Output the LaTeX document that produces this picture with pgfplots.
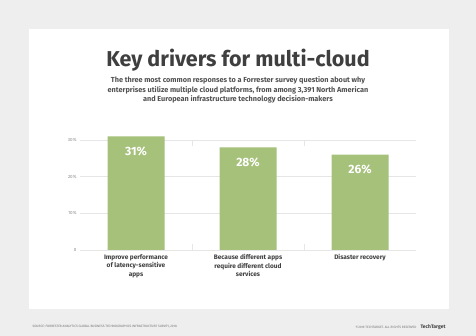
\documentclass[border=0pt]{standalone}
\usepackage{pgfplots}
\pgfplotsset{compat=1.18}
\usepackage{fontspec}
\setmainfont{Fira Sans}
\definecolor{bgout}{HTML}{EEEEEE}
\definecolor{barg}{HTML}{A5C17A}
\definecolor{txt}{HTML}{3F3F3F}
\definecolor{gridc}{HTML}{E6E6E6}
\begin{document}
\begin{tikzpicture}[x=1pt,y=1pt]
\fill[bgout] (0,0) rectangle (476,336);
\fill[white] (29,27) rectangle (449,307);
\node[font=\bfseries\fontsize{21.5}{24}\selectfont, text=txt] at (238,276) {Key drivers for multi-cloud};
\node[font=\bfseries\fontsize{7.3}{9.3}\selectfont, text=txt!90, align=center] at (238,246)
 {The three most common responses to a Forrester survey question about why\\
  enterprises utilize multiple cloud platforms, from among 3,391 North American\\
  and European infrastructure technology decision-makers};
\begin{axis}[
  at={(80pt,86pt)}, anchor=south west,
  scale only axis, width=336pt, height=110pt,
  xmin=-0.5, xmax=2.5, ymin=0, ymax=30,
  clip=false,
  axis line style={draw=none},
  ytick={0,10,20,30},
  yticklabels={0,10\%,20\%,30\%},
  yticklabel style={font=\fontsize{4.5}{5}\selectfont, text=black!45},
  /pgf/number format/assume math mode=true,
  ymajorgrids, major grid style={gridc, line width=0.8pt},
  ytick style={draw=none},
  xtick={0,1,2},
  xticklabels={Improve performance\\of latency-sensitive\\apps,
               Because different apps\\require different cloud\\services,
               Disaster recovery},
  xticklabel style={font=\bfseries\fontsize{6.5}{8.3}\selectfont, text=txt, align=center, yshift=-1pt},
  xtick style={draw=none},
  extra x ticks={0.5,1.5},
  extra x tick labels={},
  extra x tick style={xtick style={draw=gridc, line width=0.8pt}, major tick length=6pt},
]
\addplot[ybar, bar width=57pt, fill=barg, draw=none,
  nodes near coords={\pgfmathprintnumber{\pgfplotspointmeta}\%},
  nodes near coords style={anchor=north, yshift=-7pt, text=white, font=\bfseries\fontsize{12}{14}\selectfont},
] coordinates {(0,31) (1,28) (2,26)};
\end{axis}
\node[anchor=west, font=\fontsize{3.2}{3.5}\selectfont, text=black!55] at (29,9)
 {SOURCE: FORRESTER ANALYTICS GLOBAL BUSINESS TECHNOGRAPHICS INFRASTRUCTURE SURVEY, 2018};
\node[anchor=east, font=\fontsize{3.2}{3.5}\selectfont, text=black!55] at (420,9)
 {\textcopyright2019 TECHTARGET. ALL RIGHTS RESERVED};
\node[anchor=east, font=\bfseries\fontsize{5}{6}\selectfont, text=txt] at (449,9) {TechTarget};
\end{tikzpicture}
\end{document}
